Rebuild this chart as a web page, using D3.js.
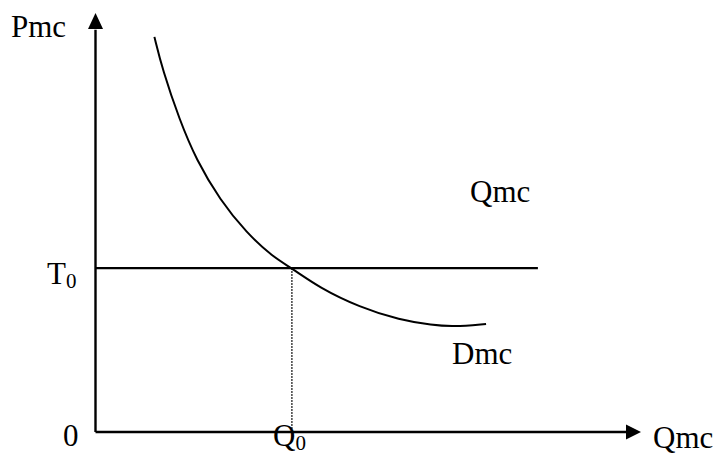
<!DOCTYPE html>
<html lang="en">
<head>
<meta charset="UTF-8">
<title>Pmc vs Qmc</title>
<script src="https://d3js.org/d3.v7.min.js"></script>
<style>
    body { margin: 0; background: #fff; }
    svg { display: block; }
    text { font-family: "Liberation Serif", "Times New Roman", serif; fill: #000; }
</style>
</head>
<body>
<svg id="chart" width="716" height="453"></svg>
<script>
    // demand curve Dmc (abstract units 0-100)
    const dmcQ = [10.8, 12.3, 15.4, 18.5, 22.8, 27.7, 32.5, 36.0, 41.1, 48.4, 55.8, 61.8, 65.5, 71.6];
    const dmcP = [94.3, 86.4, 74.5, 64.9, 55.4, 47.5, 41.8, 39.1, 34.4, 29.8, 26.7, 25.5, 25.1, 25.8];

    // tax level line and equilibrium quantity
    const T0 = 39.1;
    const Q0 = 36.0;
    const taxLineEnd = 81.1;

    const svg = d3.select("#chart");

    const x = d3.scaleLinear().domain([0, 100]).range([95.5, 641]);
    const y = d3.scaleLinear().domain([0, 100]).range([432, 13]);

    // axes
    svg.append("line")
        .attr("x1", x(0)).attr("y1", y(0))
        .attr("x2", x(0)).attr("y2", y(96))
        .attr("stroke", "#000").attr("stroke-width", 2.4);
    svg.append("path")
        .attr("d", `M${x(0)},${y(100)} L${x(0) - 7.5},${y(100) + 16} L${x(0) + 7.5},${y(100) + 16} Z`)
        .attr("fill", "#000");

    svg.append("line")
        .attr("x1", x(0)).attr("y1", y(0))
        .attr("x2", x(97.5)).attr("y2", y(0))
        .attr("stroke", "#000").attr("stroke-width", 2.4);
    svg.append("path")
        .attr("d", `M${x(100)},${y(0)} L${x(100) - 15},${y(0) - 7.5} L${x(100) - 15},${y(0) + 7.5} Z`)
        .attr("fill", "#000");

    // T0 horizontal line
    svg.append("line")
        .attr("x1", x(0)).attr("y1", y(T0))
        .attr("x2", x(taxLineEnd)).attr("y2", y(T0))
        .attr("stroke", "#000").attr("stroke-width", 2.4);

    // dotted drop line at Q0
    svg.append("line")
        .attr("x1", x(Q0)).attr("y1", y(T0))
        .attr("x2", x(Q0)).attr("y2", y(0))
        .attr("stroke", "#000").attr("stroke-width", 1.5)
        .attr("stroke-dasharray", "1.5,1.5");

    // demand curve
    const pts = dmcQ.map((q, i) => [q, dmcP[i]]);
    const line = d3.line()
        .x(d => x(d[0]))
        .y(d => y(d[1]))
        .curve(d3.curveBasis);
    svg.append("path")
        .datum(pts)
        .attr("d", line)
        .attr("fill", "none")
        .attr("stroke", "#000")
        .attr("stroke-width", 2);

    // labels
    const fs = 31;
    function label(tx, ty, main, sub) {
        const t = svg.append("text")
            .attr("x", tx).attr("y", ty)
            .attr("font-size", fs)
            .text(main);
        if (sub) {
            t.append("tspan")
                .attr("font-size", 21)
                .attr("dy", 4)
                .text(sub);
        }
    }

    label(11, 37, "Pmc");
    label(47, 284, "T", "0");
    label(63, 446, "0");
    label(273, 446, "Q", "0");
    label(470, 202, "Qmc");
    label(452, 364, "Dmc");
    label(653, 448, "Qmc");
</script>
</body>
</html>
